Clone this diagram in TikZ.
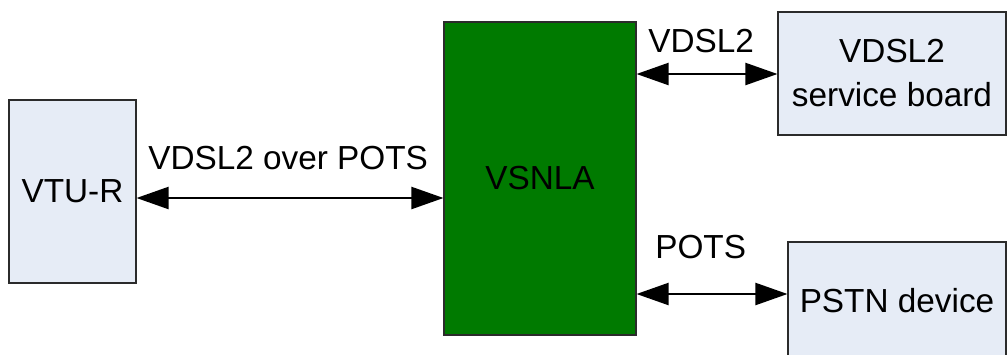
\documentclass[tikz,border=0pt]{standalone}
\usepackage{fontspec}
\setmainfont{Liberation Sans}
\usetikzlibrary{arrows.meta, positioning}
\definecolor{boxfill}{HTML}{E6ECF6}
\definecolor{boxline}{HTML}{2B2B2B}
\definecolor{unitgreen}{HTML}{007A00}
\tikzset{
  font=\fontsize{25}{33}\selectfont,
  >={Triangle[length=24pt, width=16.5pt]},
  %
  box/.style={
    draw=boxline, line width=0.8pt, fill=boxfill, inner sep=0pt,
    align=center, text=black,
  },
  unit/.style={box, fill=unitgreen},
  %
  link/.style={draw=black, line width=1.6pt, <->},
  lbl/.style={inner sep=0pt, anchor=base west, text=black},
}

\begin{document}
\begin{tikzpicture}[x=0.75pt, y=-0.75pt]
  \useasboundingbox (0,0) rectangle (1007,354);

  % --- blocks -------------------------------------------------------------
  \node[box, minimum width=95.25pt, minimum height=137.25pt] (vtur)
    at (72.5,191.5) {VTU-R};
  \node[unit, minimum width=144pt, minimum height=234.75pt] (vsnla)
    at (540,178.5) {VSNLA};
  \node[box, minimum width=171pt, minimum height=92.25pt] (board)
    at (892,73.5) {VDSL2\\service board};
  \node[box, minimum width=163.5pt, minimum height=88.5pt] (pstn)
    at (897,301) {PSTN device};

  % --- lines --------------------------------------------------------------
  \coordinate (toplane) at (0,74);
  \coordinate (midlane) at (0,198);
  \coordinate (lowlane) at (0,294);

  \draw[link] (vtur.east |- midlane) -- (vsnla.west |- midlane);
  \draw[link] (vsnla.east |- toplane) -- (board.west |- toplane);
  \draw[link] (vsnla.east |- lowlane) -- (pstn.west |- lowlane);

  \node[lbl] (lblover) at (148,169) {VDSL2 over POTS};
  \node[lbl] (lblvdsl) at (648,52) {VDSL2};
  \node[lbl] (lblpots) at (655,258) {POTS};

\end{tikzpicture}
\end{document}
